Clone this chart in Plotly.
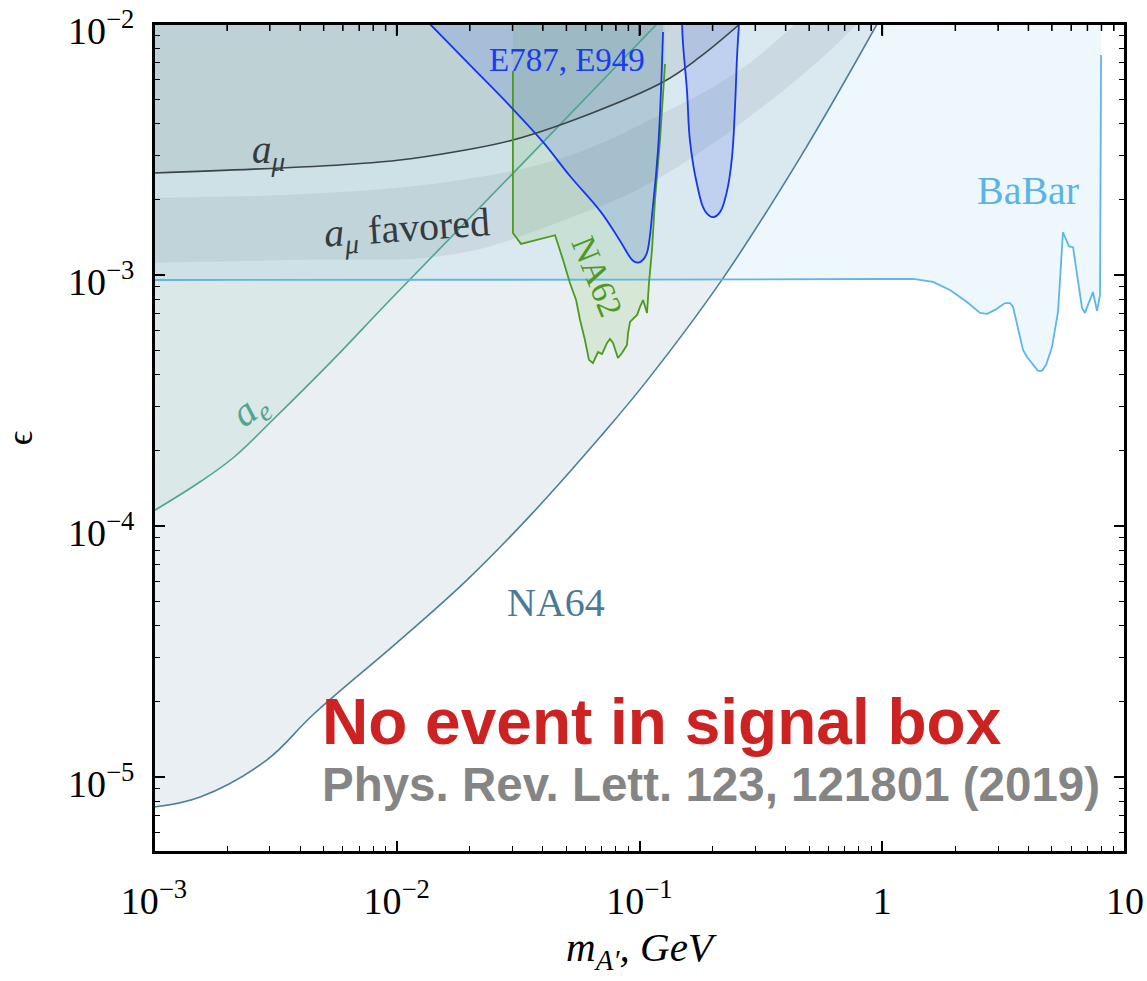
import plotly.graph_objects as go

TOP = 1e-2

# ---------------- data (m in GeV, epsilon) ----------------
na64_m   = [1.0e-3, 1.55e-3, 2.92e-3, 4.52e-3, 1.03e-2, 1.95e-2, 3.64e-2, 6.88e-2, 0.108, 0.217, 0.458, 0.952]
na64_eps = [7.59e-6, 8.32e-6, 1.17e-5, 1.77e-5, 3.51e-5, 6.10e-5, 1.13e-4, 2.26e-4, 3.82e-4, 9.47e-4, 2.93e-3, 1.0e-2]

ae_m   = [1.0e-3, 1.55e-3, 2.12e-3, 3.09e-3, 5.46e-3, 9.38e-3, 3.44e-2, 0.118]
ae_eps = [1.15e-4, 1.50e-4, 1.87e-4, 2.65e-4, 4.59e-4, 7.95e-4, 2.90e-3, 1.0e-2]

amu_m   = [1.0e-3, 2.58e-3, 6.67e-3, 1.03e-2, 1.72e-2, 3.01e-2, 6.08e-2, 0.125, 0.1775, 0.259]
amu_eps = [2.55e-3, 2.64e-3, 2.77e-3, 2.87e-3, 3.09e-3, 3.45e-3, 4.34e-3, 5.87e-3, 7.39e-3, 1.0e-2]

band_up_m   = [1.0e-3, 4.15e-3, 1.72e-2, 4.93e-2, 0.121, 0.259, 0.437]
band_up_eps = [2.03e-3, 2.10e-3, 2.37e-3, 2.95e-3, 4.34e-3, 6.56e-3, 1.0e-2]
band_lo_m   = [1.0e-3, 3.99e-3, 1.72e-2, 4.70e-2, 0.121, 0.458, 0.787]
band_lo_eps = [1.12e-3, 1.15e-3, 1.21e-3, 1.63e-3, 2.44e-3, 6.15e-3, 1.0e-2]

babar_m   = [0.001, 0.01, 0.1, 0.98, 1.339, 1.619, 1.901, 2.234, 2.527, 2.701, 2.914, 3.204, 3.360, 3.457,
             3.625, 3.801, 3.948, 4.381, 4.55, 4.727, 5.004, 5.297, 5.553, 5.88, 6.107, 6.344, 6.65, 6.84,
             7.38, 7.67, 7.89, 7.97]
babar_eps = [9.55e-4, 9.55e-4, 9.58e-4, 9.64e-4, 9.64e-4, 9.38e-4, 8.71e-4, 7.80e-4, 7.06e-4, 7.00e-4,
             7.26e-4, 7.73e-4, 7.73e-4, 7.46e-4, 6.21e-4, 5.03e-4, 4.71e-4, 4.15e-4, 4.15e-4, 4.38e-4,
             5.16e-4, 7.12e-4, 1.48e-3, 1.30e-3, 1.29e-3, 1.02e-3, 7.39e-4, 7.06e-4, 8.55e-4, 7.19e-4,
             8.32e-4, 7.52e-3]

e787_m   = [0.0137, 0.0200, 0.0293, 0.0400, 0.0517, 0.0688, 0.0831, 0.0940, 0.0986, 0.1034, 0.1074,
            0.1137, 0.1192, 0.1226, 0.1250]
e787_eps = [1.0e-2, 6.87e-3, 4.71e-3, 3.39e-3, 2.48e-3, 1.80e-3, 1.37e-3, 1.14e-3, 1.12e-3, 1.15e-3,
            1.23e-3, 1.90e-3, 3.15e-3, 5.41e-3, 9.29e-3]

e949_m   = [0.1497, 0.1511, 0.1569, 0.1614, 0.1725, 0.1861, 0.2008, 0.2146, 0.2293, 0.2405, 0.2474, 0.2522, 0.2570]
e949_eps = [1.0e-2, 8.32e-3, 5.41e-3, 3.42e-3, 2.30e-3, 1.80e-3, 1.70e-3, 1.78e-3, 2.16e-3, 2.95e-3,
            4.67e-3, 7.39e-3, 1.0e-2]

na62_m   = [0.0301, 0.0301, 0.0325, 0.0449, 0.0484, 0.0517, 0.0548, 0.0569, 0.0596, 0.0619, 0.0643,
            0.0675, 0.0701, 0.0735, 0.0756, 0.0778, 0.0815, 0.0847, 0.0888, 0.0897, 0.0914, 0.0977,
            0.1005, 0.1034, 0.1074, 0.1094, 0.1126, 0.1158, 0.1214, 0.1250, 0.1274]
na62_eps = [6.50e-3, 1.47e-3, 1.33e-3, 1.44e-3, 1.15e-3, 9.29e-4, 7.95e-4, 6.62e-4, 5.51e-4, 4.59e-4,
            4.46e-4, 4.93e-4, 4.84e-4, 5.36e-4, 5.56e-4, 5.36e-4, 4.67e-4, 4.89e-4, 5.26e-4, 5.87e-4,
            6.50e-4, 6.93e-4, 7.46e-4, 7.95e-4, 7.06e-4, 9.29e-4, 1.26e-3, 1.99e-3, 3.42e-3, 5.41e-3,
            6.93e-3]

x_tickvals = [1e-3, 1e-2, 1e-1, 1, 10]
x_ticktext = ["10<sup>\u22123</sup>", "10<sup>\u22122</sup>", "10<sup>\u22121</sup>", "1", "10"]
y_tickvals = [1e-5, 1e-4, 1e-3, 1e-2]
y_ticktext = ["10<sup>\u22125</sup>", "10<sup>\u22124</sup>", "10<sup>\u22123</sup>", "10<sup>\u22122</sup>"]

x_minor = [k * 10.0 ** d for d in range(-3, 1) for k in range(2, 10)]
y_minor = [k * 10.0 ** d for d in range(-6, -2) for k in range(2, 10) if 5e-6 <= k * 10.0 ** d <= 1e-2]

X_RANGE = [-3, 1]
Y_RANGE = [-5.299, -2]

SMOOTH = 1.1

# ---------------- figure ----------------
fig = go.Figure()


def add_fill(x, y, color, shape="spline"):
    fig.add_trace(go.Scatter(x=x, y=[TOP] * len(x), mode="lines", line=dict(width=0),
                             hoverinfo="skip", showlegend=False))
    fig.add_trace(go.Scatter(x=x, y=y, mode="lines", line=dict(width=0, shape=shape, smoothing=SMOOTH),
                             fill="tonexty", fillcolor=color, hoverinfo="skip", showlegend=False))


def add_line(x, y, color, width=1.7, shape="spline"):
    fig.add_trace(go.Scatter(x=x, y=y, mode="lines",
                             line=dict(color=color, width=width, shape=shape, smoothing=SMOOTH),
                             hoverinfo="skip", showlegend=False))


# fills (bottom to top)
add_fill(na64_m, na64_eps, "rgba(74,127,150,0.12)")
add_fill(babar_m, babar_eps, "rgba(90,180,230,0.10)", shape="linear")
add_fill(ae_m, ae_eps, "rgba(114,185,164,0.12)")
add_fill(amu_m, amu_eps, "rgba(60,75,80,0.10)")
# a_mu favored band
fig.add_trace(go.Scatter(x=band_lo_m, y=band_lo_eps, mode="lines",
                         line=dict(width=0, shape="spline", smoothing=SMOOTH),
                         hoverinfo="skip", showlegend=False))
fig.add_trace(go.Scatter(x=band_up_m, y=band_up_eps, mode="lines",
                         line=dict(width=0, shape="spline", smoothing=SMOOTH),
                         fill="tonexty", fillcolor="rgba(100,120,130,0.12)", hoverinfo="skip", showlegend=False))
add_fill(na62_m, na62_eps, "rgba(90,170,40,0.13)", shape="linear")
add_fill(e787_m, e787_eps, "rgba(40,80,230,0.15)")
add_fill(e949_m, e949_eps, "rgba(40,80,230,0.15)")

# lines
add_line(na64_m, na64_eps, "#4d7f99", 1.6)
add_line(ae_m, ae_eps, "#4fa58e", 1.6)
add_line(amu_m, amu_eps, "#3b4549", 1.6)
add_line(babar_m, babar_eps, "#5cb6e8", 1.8, shape="linear")
add_line(na62_m, na62_eps, "#4c9a1e", 1.8, shape="linear")
add_line(e787_m, e787_eps, "#1536ee", 1.8)
add_line(e949_m, e949_eps, "#1536ee", 1.8)

SERIF = "Liberation Serif"

annotations = [
    dict(text="E787, E949", x=0.4253, y=0.9565, font=dict(size=33, color="#1a3cf0", family=SERIF)),
    dict(text="BaBar", x=0.9001, y=0.7995, font=dict(size=40, color="#5ab4e4", family=SERIF)),
    dict(text="NA64", x=0.4140, y=0.3019, font=dict(size=40, color="#4a7a96", family=SERIF)),
    dict(text="<i>a</i><sub><i>\u03bc</i></sub>", x=0.1184, y=0.8454, font=dict(size=39, color="#333b3e", family=SERIF)),
    dict(text="<i>a</i><sub><i>\u03bc</i></sub> favored", x=0.2606, y=0.7512, textangle=-4,
         font=dict(size=40, color="#333b3e", family=SERIF)),
    dict(text="<i>a</i><sub><i>e</i></sub>", x=0.0989, y=0.5338, textangle=-38,
         font=dict(size=40, color="#4fa58e", family=SERIF)),
    dict(text="NA62", x=0.4562, y=0.6945, textangle=68, font=dict(size=34, color="#4c9a1e", family=SERIF)),
    dict(text="<b>No event in signal box</b>", x=0.171, y=0.157, xanchor="left",
         font=dict(size=64, color="#cc2222", family="Liberation Sans")),
    dict(text="<b>Phys. Rev. Lett. 123, 121801 (2019)</b>", x=0.171, y=0.0821, xanchor="left",
         font=dict(size=47.5, color="#858585", family="Liberation Sans")),
]
for a in annotations:
    a.setdefault("xanchor", "center")
    a.update(xref="paper", yref="paper", yanchor="middle", showarrow=False)

# frame + top tick marks: x in data units, y from the top of the plot downwards (ticks are 11 / 7 px long)
DECADE_PX = (981 - 24 - 129) / (Y_RANGE[1] - Y_RANGE[0])
shapes = [dict(type="rect", xref="paper", yref="paper", x0=0, x1=1, y0=0, y1=1,
               line=dict(color="black", width=2), fillcolor="rgba(0,0,0,0)", layer="above")]
for vals, length, width in ((x_tickvals, 12, 1.8), (x_minor, 7, 1.5)):
    for v in vals:
        if 10 ** X_RANGE[0] < v < 10 ** X_RANGE[1]:
            shapes.append(dict(type="line", xref="x", yref="y", x0=v, x1=v,
                               y0=10 ** Y_RANGE[1], y1=10 ** (Y_RANGE[1] - length / DECADE_PX),
                               line=dict(color="black", width=width), layer="above"))

tick_style = dict(ticks="inside", ticklen=11, tickwidth=1.5, tickcolor="black")
minor_x = dict(tickvals=x_minor, ticks="inside", ticklen=6, tickwidth=1.2, tickcolor="black", showgrid=False)
minor_y = dict(tickvals=y_minor, ticks="inside", ticklen=6, tickwidth=1.2, tickcolor="black", showgrid=False)

axis_common = dict(
    type="log", showgrid=False, zeroline=False, automargin=False,
    showline=True, linecolor="black", linewidth=2, mirror="allticks",
    ticklabeloverflow="allow",
    tickfont=dict(family=SERIF, size=38, color="black"),
    **tick_style,
)

fig.update_layout(
    width=1147, height=981,
    margin=dict(l=154, r=22, t=24, b=129),
    paper_bgcolor="white", plot_bgcolor="white",
    showlegend=False,
    annotations=annotations,
    shapes=shapes,
    xaxis=dict(
        **axis_common,
        range=X_RANGE,
        tickvals=x_tickvals, ticktext=x_ticktext,
        ticklabelstandoff=14,
        minor=minor_x,
        title=dict(text="<i>m</i><sub><i>A\u2032</i></sub><i>, GeV</i>",
                   font=dict(family=SERIF, size=41, color="black"), standoff=12),
    ),
    yaxis=dict(
        **axis_common,
        range=Y_RANGE,
        tickvals=y_tickvals, ticktext=y_ticktext,
        ticklabelstandoff=10,
        ticklabelshift=7,
        minor=minor_y,
        title=dict(text="\u03f5", font=dict(family=SERIF, size=36, color="black"), standoff=30),
    ),
)

fig.write_html("out.html")
